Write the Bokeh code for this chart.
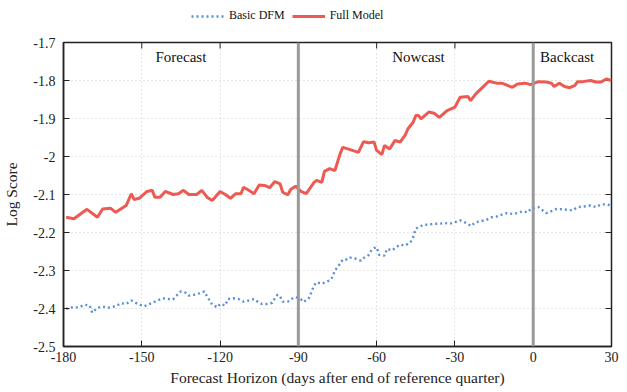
from bokeh.plotting import figure
from bokeh.layouts import column
from bokeh.models import (Range1d, FixedTicker, Span, Label, Legend, LegendItem)
from bokeh.embed import file_html
from bokeh.resources import INLINE

# ---- data ----
full_days = [-179, -176, -171, -167, -165, -162, -160, -156, -154, -153, -151, -148, -146,
             -145, -143, -141, -138, -136, -134, -132, -129, -127, -125, -123, -120, -118,
             -116, -114, -112, -111, -109, -107, -105, -103, -101, -99, -97, -96, -94, -93,
             -91, -89, -87, -84, -83, -81, -80, -78, -76, -74, -73, -71, -67, -65, -63, -61,
             -60, -58, -57, -55, -53, -51, -49, -48, -46, -45, -44, -43, -40, -38, -36, -33,
             -30, -28, -25, -24, -22, -20, -17, -14, -12, -8, -6, -3, -1, 2, 5, 7, 8, 10, 12,
             14, 16, 17, 19, 22, 24, 26, 28, 30]
full_vals = [-2.160, -2.164, -2.139, -2.160, -2.138, -2.136, -2.147, -2.129, -2.098, -2.113,
             -2.110, -2.092, -2.089, -2.107, -2.107, -2.092, -2.100, -2.098, -2.089, -2.100,
             -2.100, -2.089, -2.107, -2.116, -2.092, -2.100, -2.110, -2.098, -2.098, -2.081,
             -2.089, -2.098, -2.075, -2.076, -2.082, -2.066, -2.072, -2.094, -2.101, -2.087,
             -2.078, -2.092, -2.098, -2.068, -2.063, -2.068, -2.039, -2.032, -2.037, -1.993,
             -1.976, -1.980, -1.989, -1.961, -1.964, -1.962, -1.984, -1.995, -1.971, -1.980,
             -1.958, -1.962, -1.943, -1.927, -1.910, -1.892, -1.892, -1.901, -1.883, -1.886,
             -1.897, -1.879, -1.870, -1.844, -1.842, -1.853, -1.835, -1.822, -1.802, -1.807,
             -1.807, -1.818, -1.809, -1.807, -1.811, -1.803, -1.804, -1.807, -1.816, -1.807,
             -1.816, -1.819, -1.813, -1.803, -1.803, -1.800, -1.804, -1.804, -1.796, -1.800]

basic_days = [-179, -177, -174, -172, -170, -169, -167, -165, -163, -160, -158, -156, -154,
              -151, -149, -146, -144, -142, -140, -138, -137, -135, -133, -132, -130, -128,
              -126, -125, -123, -121, -120, -118, -117, -115, -113, -111, -109, -107, -105,
              -104, -102, -100, -99, -98, -97, -96, -94, -93, -91, -89, -88, -86, -85, -84,
              -83, -81, -80, -78, -77, -76, -74, -73, -71, -70, -68, -66, -65, -63, -62, -61,
              -60, -59, -57, -56, -54, -53, -51, -49, -47, -46, -45, -44, -42, -40, -38, -36,
              -34, -32, -30, -28, -27, -25, -24, -22, -20, -18, -16, -14, -12, -10, -8, -6,
              -4, -2, -1, 2, 3, 5, 7, 9, 11, 13, 15, 17, 19, 22, 24, 26, 28, 30]
basic_vals = [-2.401, -2.397, -2.397, -2.390, -2.392, -2.411, -2.398, -2.395, -2.398, -2.394,
              -2.386, -2.388, -2.379, -2.390, -2.394, -2.385, -2.379, -2.373, -2.375, -2.376,
              -2.368, -2.355, -2.359, -2.366, -2.364, -2.360, -2.355, -2.368, -2.390, -2.397,
              -2.388, -2.392, -2.375, -2.373, -2.375, -2.382, -2.379, -2.375, -2.385, -2.388,
              -2.388, -2.385, -2.373, -2.364, -2.368, -2.382, -2.382, -2.376, -2.370, -2.376,
              -2.383, -2.373, -2.357, -2.339, -2.331, -2.335, -2.332, -2.326, -2.318, -2.300,
              -2.282, -2.271, -2.271, -2.266, -2.269, -2.274, -2.267, -2.259, -2.247, -2.241,
              -2.239, -2.259, -2.261, -2.243, -2.247, -2.241, -2.232, -2.234, -2.225, -2.212,
              -2.190, -2.186, -2.180, -2.179, -2.177, -2.177, -2.175, -2.177, -2.173, -2.168,
              -2.171, -2.177, -2.183, -2.173, -2.170, -2.167, -2.160, -2.158, -2.153, -2.149,
              -2.151, -2.149, -2.144, -2.147, -2.138, -2.133, -2.139, -2.149, -2.144, -2.138,
              -2.139, -2.140, -2.142, -2.133, -2.132, -2.129, -2.133, -2.126, -2.126, -2.129]

x_ticks = [-180, -150, -120, -90, -60, -30, 0, 30]
x_tick_labels = ["-180", "-150", "-120", "-90", "-60", "-30", "0", "30"]
y_ticks = [-2.5, -2.4, -2.3, -2.2, -2.1, -2.0, -1.9, -1.8, -1.7]
y_tick_labels = ["-2.5", "-2.4", "-2.3", "-2.2", "-2.1", "-2", "-1.9", "-1.8", "-1.7"]
phase_breaks = [-90, 0]
phase_names = ["Forecast", "Nowcast", "Backcast"]
phase_pos = [-135, -44, 13]
series_names = ["Basic DFM", "Full Model"]

X0, X1 = -180, 30
Y0, Y1 = -2.5, -1.7
FONT = "Liberation Serif"
RED = "#EC5A52"
BLUE = "#5A8FD6"
INK = "#222222"

W = 627
LEG_H = 34
H = 392 - LEG_H
ML, MR, MT, MB = 60, 16, 42 - LEG_H, 46

# ---- legend strip on top (series drawn out of view; only the legend shows) ----
lg = figure(width=W, height=LEG_H, output_backend="svg", toolbar_location=None,
            x_axis_location=None, y_axis_location=None,
            x_range=Range1d(1000, 1001), y_range=Range1d(1000, 1001),
            min_border=0)
lg.outline_line_color = None
lg.xgrid.visible = False
lg.ygrid.visible = False
lb = lg.line(basic_days, basic_vals, line_color=BLUE, line_width=2.4, line_dash="2 3")
lf = lg.line(full_days, full_vals, line_color=RED, line_width=3)
legend = Legend(items=[LegendItem(label=series_names[0], renderers=[lb]),
                       LegendItem(label=series_names[1], renderers=[lf])],
                orientation="horizontal", location=(128, 11),
                label_text_font=FONT, label_text_font_size="12px",
                label_text_color="#111111", border_line_color=None,
                background_fill_alpha=0, glyph_width=33, glyph_height=10,
                label_standoff=5, spacing=7, padding=2, margin=0)
lg.add_layout(legend, "center")

# ---- main chart ----
p = figure(width=W, height=H, output_backend="svg", toolbar_location=None,
           x_range=Range1d(X0, X1), y_range=Range1d(Y0, Y1),
           min_border_left=ML, min_border_right=MR, min_border_top=MT,
           min_border_bottom=MB)
p.background_fill_color = "white"
p.border_fill_color = "white"
p.outline_line_color = INK
p.outline_line_width = 1.5

for g in (p.xgrid, p.ygrid):
    g.grid_line_color = "#cccccc"
    g.grid_line_dash = "1 3"
    g.grid_line_width = 1
p.xgrid.ticker = FixedTicker(ticks=x_ticks)
p.ygrid.ticker = FixedTicker(ticks=y_ticks)

xa = p.xaxis[0]
ya = p.yaxis[0]
xa.ticker = FixedTicker(ticks=x_ticks)
ya.ticker = FixedTicker(ticks=y_ticks)
xa.major_label_overrides = {float(t): l for t, l in zip(x_ticks, x_tick_labels)}
ya.major_label_overrides = {t: l for t, l in zip(y_ticks, y_tick_labels)}
for ax in (xa, ya):
    ax.major_tick_in = 6
    ax.major_tick_out = 0
    ax.minor_tick_in = 0
    ax.minor_tick_out = 0
    ax.axis_line_color = INK
    ax.axis_line_width = 1.5
    ax.major_tick_line_color = INK
    ax.major_label_text_font = FONT
    ax.major_label_text_font_size = "14px"
    ax.major_label_text_color = INK
    ax.axis_label_text_font = FONT
    ax.axis_label_text_font_size = "15.5px"
    ax.axis_label_text_font_style = "normal"
    ax.axis_label_text_color = INK
xa.axis_label = "Forecast Horizon (days after end of reference quarter)"
ya.axis_label = "Log Score"
xa.major_label_standoff = 5
xa.axis_label_standoff = 4
ya.major_label_standoff = 8
ya.axis_label_standoff = 10

# mirrored inward ticks on the top and right edges (6 px long)
frame_w = W - ML - MR
frame_h = H - MT - MB
dx = 6 * (X1 - X0) / frame_w
dy = 6 * (Y1 - Y0) / frame_h
p.segment(x0=x_ticks, y0=[Y1] * len(x_ticks), x1=x_ticks, y1=[Y1 - dy] * len(x_ticks),
          line_color=INK, line_width=1)
p.segment(x0=[X1] * len(y_ticks), y0=y_ticks, x1=[X1 - dx] * len(y_ticks), y1=y_ticks,
          line_color=INK, line_width=1)

p.line(basic_days, basic_vals, line_color=BLUE, line_width=2.4, line_dash="2 3")
p.line(full_days, full_vals, line_color=RED, line_width=3)

for b in phase_breaks:
    p.add_layout(Span(location=b, dimension="height", line_color="#9a9a9a",
                      line_width=3))

for name, pos in zip(phase_names, phase_pos):
    p.add_layout(Label(x=pos, y=-1.739, text=name, text_font=FONT,
                       text_font_size="15px", text_color="#111111",
                       text_align="center", text_baseline="middle"))

layout = column(lg, p, spacing=0)
open("out.html", "w").write(file_html(layout, INLINE))
